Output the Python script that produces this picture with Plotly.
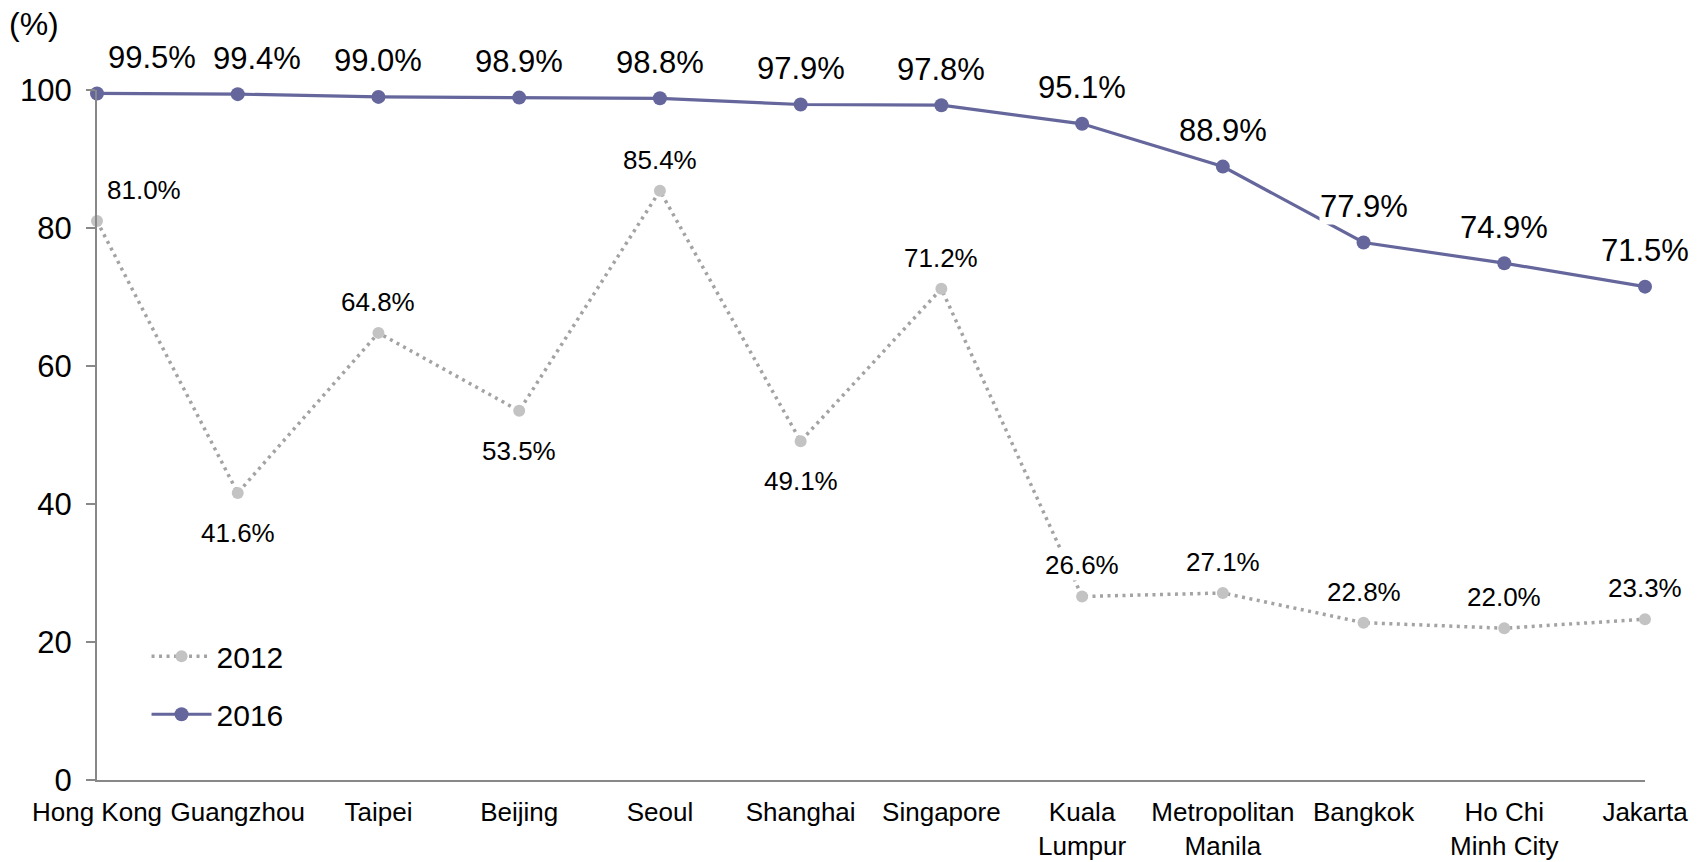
import plotly.graph_objects as go

cities = ["Hong Kong", "Guangzhou", "Taipei", "Beijing", "Seoul", "Shanghai",
          "Singapore", "Kuala<br>Lumpur", "Metropolitan<br>Manila", "Bangkok",
          "Ho Chi<br>Minh City", "Jakarta"]
v2012 = [81.0, 41.6, 64.8, 53.5, 85.4, 49.1, 71.2, 26.6, 27.1, 22.8, 22.0, 23.3]
v2016 = [99.5, 99.4, 99.0, 98.9, 98.8, 97.9, 97.8, 95.1, 88.9, 77.9, 74.9, 71.5]
y_ticks = [0, 20, 40, 60, 80, 100]

FONT = "Liberation Sans, Arial, sans-serif"
C2016 = "#65669B"
C2012_M = "#C3C3C3"
C2012_L = "#A3A3A3"

fig = go.Figure()
fig.add_trace(go.Scatter(
    x=cities, y=v2012, name="2012", mode="lines+markers", legendgroup="a",
    line=dict(color=C2012_L, width=3.5, dash="3px,4.5px"),
    marker=dict(color=C2012_M, size=12),
    cliponaxis=False,
))
fig.add_trace(go.Scatter(
    x=cities, y=v2016, name="2016", mode="lines+markers", legendgroup="b",
    line=dict(color=C2016, width=3.2),
    marker=dict(color=C2016, size=14),
    cliponaxis=False,
))

ann = []
below_2012 = {1, 3, 5}
for i, (c, v) in enumerate(zip(cities, v2012)):
    if i == 0:
        ann.append(dict(x=c, y=v, text=f"{v:.1f}%", showarrow=False, xanchor="left",
                        yanchor="middle", xshift=8, yshift=31,
                        font=dict(size=26, color="#000", family=FONT), bgcolor="white"))
    else:
        ys = -40 if i in below_2012 else 31
        ann.append(dict(x=c, y=v, text=f"{v:.1f}%", showarrow=False, xanchor="center",
                        yanchor="middle", yshift=ys,
                        font=dict(size=26, color="#000", family=FONT), bgcolor="white",
                        borderpad=0))
for i, (c, v) in enumerate(zip(cities, v2016)):
    if i == 0:
        ann.append(dict(x=c, y=v, text=f"{v:.1f}%", showarrow=False, xanchor="left",
                        yanchor="middle", xshift=9, yshift=36,
                        font=dict(size=31, color="#000", family=FONT)))
    else:
        xs = 19 if i == 1 else 0
        ann.append(dict(x=c, y=v, text=f"{v:.1f}%", showarrow=False, xanchor="center",
                        yanchor="middle", yshift=36, xshift=xs,
                        font=dict(size=31, color="#000", family=FONT), bgcolor="white",
                        borderpad=0))
ann.append(dict(x=-0.058, y=1.095, xref="paper", yref="paper", text="(%)",
                showarrow=False, xanchor="left", yanchor="middle",
                font=dict(size=32, color="#000", family=FONT)))

fig.update_layout(
    width=1701, height=862,
    margin=dict(l=97, r=56, t=90, b=82, autoexpand=False),
    paper_bgcolor="white", plot_bgcolor="white",
    font=dict(family=FONT, color="#000"),
    showlegend=True,
    legend=dict(x=0.032, y=0.217, xanchor="left", yanchor="top",
                font=dict(size=30, family=FONT, color="#000"),
                bgcolor="rgba(0,0,0,0)", itemwidth=60, tracegroupgap=16),
    annotations=ann,
)
fig.update_xaxes(
    type="category", range=[0, 11], showgrid=False, zeroline=False,
    showline=True, linecolor="#888888", linewidth=2, ticks="",
    ticklabelstandoff=8, automargin=False,
    tickfont=dict(size=26, family=FONT, color="#000"),
)
fig.update_yaxes(
    range=[0, 100], tickvals=y_ticks, showgrid=False, zeroline=False,
    showline=True, linecolor="#888888", linewidth=2,
    ticks="outside", ticklen=9, tickcolor="#888888", tickwidth=2,
    ticklabelstandoff=8, automargin=False,
    tickfont=dict(size=31, family=FONT, color="#000"),
)

fig.write_html("out.html")
